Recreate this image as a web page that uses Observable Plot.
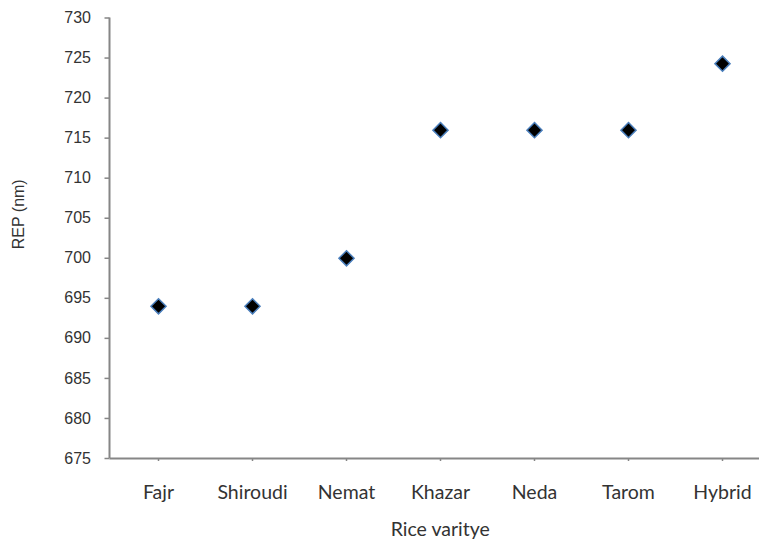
<!DOCTYPE html>
<html>
<head>
<meta charset="utf-8">
<script src="https://cdn.jsdelivr.net/npm/d3@7"></script>
<script src="https://cdn.jsdelivr.net/npm/@observablehq/plot@0.6"></script>
<style>
  html, body { margin: 0; padding: 0; background: #fff; overflow: hidden; }
  #chart { width: 759px; height: 542px; overflow: hidden; }
  #chart svg { max-width: none !important; }
</style>
</head>
<body>
<div id="chart"></div>
<script>
const varieties = ["Fajr", "Shiroudi", "Nemat", "Khazar", "Neda", "Tarom", "Hybrid"];
const rep = [694, 694, 700, 716, 716, 716, 724.3];
const yTicks = [675, 680, 685, 690, 695, 700, 705, 710, 715, 720, 725, 730];
const xTitle = "Rice varitye";
const yTitle = "REP (nm)";

const data = varieties.map((v, i) => ({variety: v, rep: rep[i]}));
const axisColor = "#868686";

function yAxisLine(index, scales, values, dimensions) {
  const line = document.createElementNS("http://www.w3.org/2000/svg", "line");
  const x = dimensions.marginLeft;
  line.setAttribute("x1", x);
  line.setAttribute("x2", x);
  line.setAttribute("y1", scales.y(730));
  line.setAttribute("y2", scales.y(675));
  line.setAttribute("stroke", axisColor);
  line.setAttribute("stroke-width", 2);
  return line;
}

const chart = Plot.plot({
  width: 770,
  height: 542,
  marginLeft: 109.5,
  marginRight: 0,
  marginTop: 17.5,
  marginBottom: 84,
  style: {background: "#fff", overflow: "hidden", maxWidth: "none"},
  x: {type: "point", domain: varieties, padding: 0.5},
  y: {domain: [675, 730]},
  marks: [
    Plot.axisY({ticks: yTicks, tickSize: 5, tickPadding: 14, stroke: axisColor, strokeWidth: 1.5,
      fill: "#333", fontSize: 16, fontFamily: "Liberation Sans, Arial, sans-serif", label: null}),
    Plot.axisX({tickSize: 3, tickPadding: 24, stroke: axisColor, strokeWidth: 1.5,
      fill: "#333", fontSize: 19.5, fontFamily: "Lato, Open Sans, sans-serif", label: null}),
    yAxisLine,
    Plot.ruleY([675], {stroke: axisColor, strokeWidth: 2}),
    Plot.dot(data, {x: "variety", y: "rep", symbol: "diamond2", r: 6.8, fill: "#000", stroke: "#4a7ebb", strokeWidth: 1.5}),
    Plot.text([xTitle], {frameAnchor: "bottom", dy: 77, fontSize: 19.5, fill: "#333", fontFamily: "Lato, Open Sans, sans-serif"}),
    Plot.text([yTitle], {frameAnchor: "left", dx: -91, dy: 11, rotate: -90, fontSize: 16, fill: "#333", fontFamily: "Liberation Sans, Arial, sans-serif"})
  ]
});

document.getElementById("chart").appendChild(chart);
</script>
</body>
</html>
